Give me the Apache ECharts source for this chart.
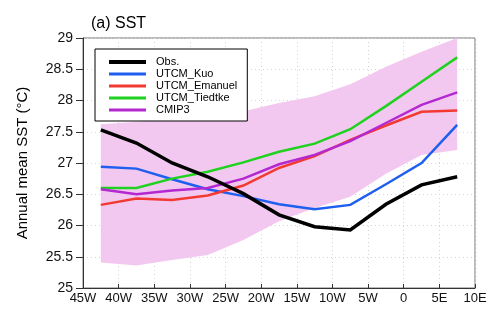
<!DOCTYPE html>
<html>
<head>
<meta charset="utf-8">
<script src="https://cdn.jsdelivr.net/npm/echarts@6/dist/echarts.min.js"></script>
<style>
  html, body { margin: 0; padding: 0; background: #fff; }
  #chart { width: 500px; height: 328px; }
</style>
</head>
<body>
<div id="chart"></div>
<script>
// Longitudes of the 5-degree bins (negative = west)
const lon = [-42.5, -37.5, -32.5, -27.5, -22.5, -17.5, -12.5, -7.5, -2.5, 2.5, 7.5];

// Annual mean SST (deg C)
const obs      = [27.53, 27.32, 27.00, 26.78, 26.51, 26.17, 25.98, 25.93, 26.34, 26.65, 26.78];
const utcmKuo  = [26.94, 26.91, 26.74, 26.58, 26.47, 26.34, 26.26, 26.33, 26.66, 27.00, 27.61];
const utcmEman = [26.33, 26.43, 26.41, 26.48, 26.64, 26.92, 27.11, 27.37, 27.60, 27.82, 27.84];
const utcmTied = [26.60, 26.60, 26.75, 26.86, 27.01, 27.18, 27.31, 27.54, 27.91, 28.30, 28.69];
const cmip3    = [26.58, 26.50, 26.56, 26.60, 26.75, 26.98, 27.13, 27.35, 27.64, 27.93, 28.13];

// CMIP3 spread envelope
const cmipLow  = [25.41, 25.36, 25.45, 25.53, 25.77, 26.07, 26.28, 26.46, 26.83, 27.13, 27.21];
const cmipHigh = [27.62, 27.66, 27.70, 27.75, 27.83, 27.96, 28.07, 28.26, 28.54, 28.78, 29.00];

// Axis ticks
const xTicks      = [-45, -40, -35, -30, -25, -20, -15, -10, -5, 0, 5, 10];
const xTickLabels = ['45W', '40W', '35W', '30W', '25W', '20W', '15W', '10W', '5W', '0', '5E', '10E'];
const yTicks      = [25, 25.5, 26, 26.5, 27, 27.5, 28, 28.5, 29];

const pairs = (ys) => lon.map((x, i) => [x, ys[i]]);

const FONT = '"Liberation Sans", Arial, sans-serif';

function lineSeries(name, ys, color, width, z) {
  return {
    name, type: 'line', data: pairs(ys),
    symbol: 'none', showSymbol: false, z,
    lineStyle: { color, width, cap: 'butt', join: 'miter' },
    itemStyle: { color },
    emphasis: { disabled: true },
    animation: false
  };
}

const chart = echarts.init(document.getElementById('chart'), null, { renderer: 'canvas' });

chart.setOption({
  animation: false,
  backgroundColor: '#fff',
  title: {
    text: '(a) SST',
    left: 86, top: 11,
    textStyle: { fontFamily: FONT, fontSize: 16, fontWeight: 'normal', color: '#000' }
  },
  grid: {
    left: 83, right: 25, top: 38, bottom: 40,
    show: true, borderColor: '#777', borderWidth: 1, backgroundColor: 'transparent'
  },
  legend: {
    orient: 'vertical',
    left: 95, top: 49,
    padding: [7, 10, 5, 12],
    itemWidth: 37, itemHeight: 10, itemGap: 0,
    backgroundColor: '#fff',
    borderColor: '#000', borderWidth: 1,
    itemStyle: { opacity: 0 },
    lineStyle: { width: 'inherit' },
    textStyle: { fontFamily: FONT, fontSize: 11, lineHeight: 12, color: '#000', padding: [0, 0, 0, 5] },
    data: [
      { name: 'Obs.', lineStyle: { width: 4 } },
      { name: 'UTCM_Kuo', lineStyle: { width: 3 } },
      { name: 'UTCM_Emanuel', lineStyle: { width: 3 } },
      { name: 'UTCM_Tiedtke', lineStyle: { width: 3 } },
      { name: 'CMIP3', lineStyle: { width: 3 } }
    ],
    selectedMode: false,
    z: 10
  },
  xAxis: {
    type: 'value', min: -45, max: 10, interval: 5,
    axisLine: { show: true, onZero: false, lineStyle: { color: '#333', width: 1 } },
    axisTick: { show: true, inside: true, length: 4, lineStyle: { color: '#333' } },
    axisLabel: {
      margin: 4, fontFamily: FONT, fontSize: 13, color: '#111',
      formatter: (v) => { const i = xTicks.indexOf(v); return i >= 0 ? xTickLabels[i] : ''; }
    },
    splitLine: { show: true, lineStyle: { color: '#d4d4d4', type: [1, 3], width: 1 } }
  },
  yAxis: {
    type: 'value', min: 25, max: 29, interval: 0.5,
    name: 'Annual mean SST (°C)',
    nameLocation: 'middle', nameGap: 53, nameRotate: 90,
    nameTextStyle: { fontFamily: FONT, fontSize: 15, color: '#000' },
    axisLine: { show: true, onZero: false, lineStyle: { color: '#333', width: 1 } },
    axisTick: { show: true, inside: false, length: 7, lineStyle: { color: '#333' } },
    axisLabel: {
      margin: 10, fontFamily: FONT, fontSize: 14, color: '#111',
      formatter: (v) => (yTicks.indexOf(v) >= 0 ? String(v) : '')
    },
    splitLine: { show: true, lineStyle: { color: '#d4d4d4', type: [1, 3], width: 1 } }
  },
  series: [
    {
      // CMIP3 spread: polygon between the low and high envelopes
      name: 'cmipBand', type: 'custom', silent: true, z: 1,
      data: [0],
      clip: true,
      renderItem: (params, api) => {
        const top = lon.map((x, i) => api.coord([x, cmipHigh[i]]));
        const bottom = lon.map((x, i) => api.coord([x, cmipLow[i]])).reverse();
        const cs = params.coordSys;
        return {
          type: 'polygon',
          shape: { points: top.concat(bottom) },
          style: { fill: '#f3c8f0', stroke: null },
          clipPath: { type: 'rect', shape: { x: cs.x, y: cs.y, width: cs.width, height: cs.height } }
        };
      }
    },
    lineSeries('UTCM_Kuo', utcmKuo, '#1f5ff0', 2.5, 3),
    lineSeries('UTCM_Emanuel', utcmEman, '#f23a32', 2.5, 3),
    lineSeries('UTCM_Tiedtke', utcmTied, '#1fd21f', 2.5, 3),
    lineSeries('CMIP3', cmip3, '#b428d2', 2.5, 3),
    lineSeries('Obs.', obs, '#000000', 3.5, 4)
  ]
});
</script>
</body>
</html>
